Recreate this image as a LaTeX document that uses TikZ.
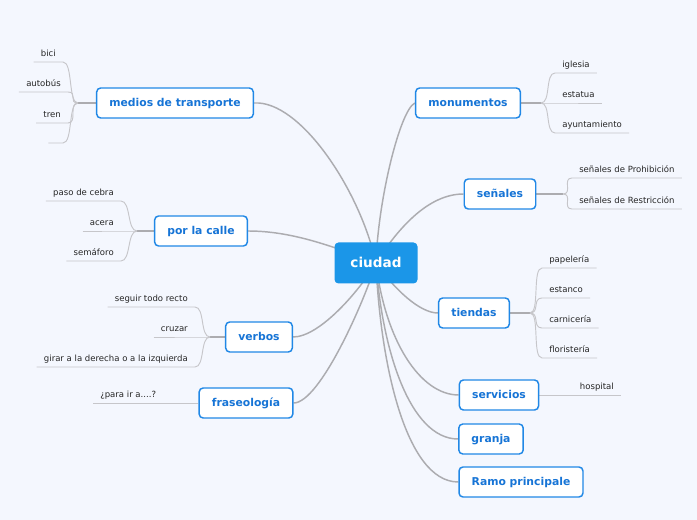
\documentclass[tikz,border=0pt]{standalone}
\usepackage{fontspec}
\setmainfont{DejaVu Sans}
\usetikzlibrary{backgrounds}

\definecolor{fondo}{RGB}{244,247,254}
\definecolor{azul}{RGB}{33,136,230}
\definecolor{azultxt}{RGB}{22,116,214}
\definecolor{azulraiz}{RGB}{27,150,232}
\definecolor{lineagris}{RGB}{172,172,176}
\definecolor{ramitagris}{RGB}{198,198,202}

\begin{document}
\begin{tikzpicture}[x=0.75pt, y=-0.75pt,
    raiz/.style={rounded corners=3pt, fill=azulraiz, text=white, font=\fontsize{10.2}{12}\selectfont\bfseries, minimum width=62.25pt, minimum height=30.75pt, text height=7.4pt, text depth=0.4pt},
    rama/.style={draw=azul, line width=1.1pt, rounded corners=3pt, fill=white, text=azultxt, font=\fontsize{8.1}{10}\selectfont\bfseries, minimum height=22.5pt, inner xsep=9.5pt, text height=6pt, text depth=1.2pt},
    hoja/.style={font=\fontsize{6.4}{8}\selectfont, text=black!85, inner xsep=5.25pt, inner ysep=2pt, text height=5pt, text depth=1.75pt},
    conec/.style={line width=1.1pt, lineagris},
    tronco/.style={line width=1.3pt, lineagris},
    ramita/.style={line width=0.7pt, ramitagris}
]

% marco
\useasboundingbox (0,0) rectangle (697,520);

% tema central
\node[raiz] (ciudad) at (376,263) {ciudad};

% ramas principales
\node[rama] (medios) at (175,103) {medios de transporte};
\node[rama] (calle) at (201,231) {por la calle};
\node[rama] (verbos) at (259,337) {verbos};
\node[rama] (fraseo) at (246,403) {fraseología};
\node[rama] (monum) at (468,103) {monumentos};
\node[rama] (senales) at (500,194) {señales};
\node[rama] (tiendas) at (474,313) {tiendas};
\node[rama] (servicios) at (499,395) {servicios};
\node[rama] (granja) at (491,439) {granja};
\node[rama] (ramo) at (521,482) {Ramo principale};

% hojas a la izquierda
\node[hoja, anchor=south east] (bici) at (63,62) {bici};
\node[hoja, anchor=south east] (autobus) at (68,92) {autobús};
\node[hoja, anchor=south east] (tren) at (68,123) {tren};
\node[hoja, anchor=south east, minimum width=10.5pt] (vacio) at (63,143) {};
\node[hoja, anchor=south east] (cebra) at (121,201) {paso de cebra};
\node[hoja, anchor=south east] (acera) at (121,231) {acera};
\node[hoja, anchor=south east] (semaforo) at (121,261) {semáforo};
\node[hoja, anchor=south east] (seguir) at (195,307) {seguir todo recto};
\node[hoja, anchor=south east] (cruzar) at (195,337) {cruzar};
\node[hoja, anchor=south east] (girar) at (195,367) {girar a la derecha o a la izquierda};
\node[hoja, anchor=south west] (parair) at (93,403) {¿para ir a....?};

% hojas a la derecha
\node[hoja, anchor=south west] (iglesia) at (555,73) {iglesia};
\node[hoja, anchor=south west] (estatua) at (555,103) {estatua};
\node[hoja, anchor=south west] (ayunta) at (555,133) {ayuntamiento};
\node[hoja, anchor=south west] (prohib) at (572,178) {señales de Prohibición};
\node[hoja, anchor=south west] (restric) at (572,209) {señales de Restricción};
\node[hoja, anchor=south west] (papeleria) at (542,268) {papelería};
\node[hoja, anchor=south west] (estanco) at (542,298) {estanco};
\node[hoja, anchor=south west] (carniceria) at (542,328) {carnicería};
\node[hoja, anchor=south west] (floristeria) at (542,358) {floristería};
\node[hoja, anchor=south east] (hospital) at (621,395) {hospital};

% puntos de union
\coordinate (jmed) at (78,103);
\coordinate (jcal) at (137,231);
\coordinate (jver) at (210,337);
\coordinate (jmon) at (541,103);
\coordinate (jsen) at (563,194);
\coordinate (jtie) at (530,313);

\begin{scope}[on background layer]
\fill[fondo] (0,0) rectangle (697,520);

% conectores desde el centro
\draw[conec] (ciudad.center) .. controls (360,190) and (300,100) .. (medios.east);
\draw[conec] (ciudad.center) .. controls (330,245) and (290,231) .. (calle.east);
\draw[conec] (ciudad.center) .. controls (360,290) and (320,337) .. (verbos.east);
\draw[conec] (ciudad.center) .. controls (365,300) and (320,403) .. (fraseo.east);
\draw[conec] (ciudad.center) .. controls (378,200) and (400,110) .. (monum.west);
\draw[conec] (ciudad.center) .. controls (400,225) and (430,194) .. (senales.west);
\draw[conec] (ciudad.center) .. controls (395,290) and (420,313) .. (tiendas.west);
\draw[conec] (ciudad.center) .. controls (385,340) and (420,395) .. (servicios.west);
\draw[conec] (ciudad.center) .. controls (382,350) and (410,439) .. (granja.west);
\draw[conec] (ciudad.center) .. controls (380,360) and (405,482) .. (ramo.west);

% troncos de las ramas
\draw[tronco] (jmed) -- (medios.west);
\draw[tronco] (jcal) -- (calle.west);
\draw[tronco] (jver) -- (verbos.west);
\draw[tronco] (monum.east) -- (jmon);
\draw[tronco] (senales.east) -- (jsen);
\draw[tronco] (tiendas.east) -- (jtie);

% ramitas izquierda
\foreach \h/\j in {bici/jmed, autobus/jmed, tren/jmed, vacio/jmed,
                   cebra/jcal, acera/jcal, semaforo/jcal,
                   seguir/jver, cruzar/jver, girar/jver}
  \draw[ramita] (\h.south west) -- (\h.south east) .. controls +(10,0) and +(-10,0) .. (\j);
\draw[ramita] (parair.south west) -- (fraseo.west);

% ramitas derecha
\foreach \h/\j in {iglesia/jmon, estatua/jmon, ayunta/jmon,
                   prohib/jsen, restric/jsen,
                   papeleria/jtie, estanco/jtie, carniceria/jtie, floristeria/jtie}
  \draw[ramita] (\h.south east) -- (\h.south west) .. controls +(-10,0) and +(10,0) .. (\j);
\draw[ramita] (servicios.east) -- (hospital.south east);
\end{scope}

\end{tikzpicture}
\end{document}
